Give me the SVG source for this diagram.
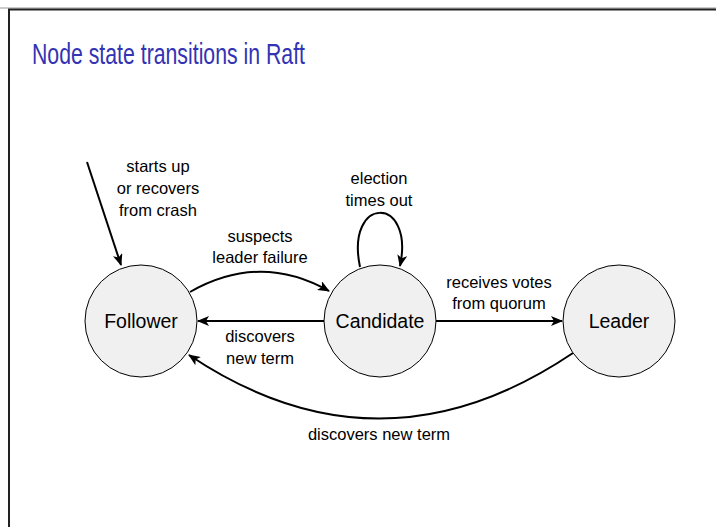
<svg xmlns="http://www.w3.org/2000/svg" width="716" height="527" viewBox="0 0 716 527">
<style>
.frame{fill:none;stroke:#222;stroke-width:2}
.node circle{fill:#f0f0f0;stroke:#000;stroke-width:1}
.node text{font-family:"Liberation Sans",Arial,sans-serif;font-size:19.5px;fill:#000;text-anchor:middle}
.edge{fill:none;stroke:#000;stroke-width:2;marker-end:url(#ah)}
.lbl{font-family:"Liberation Sans",Arial,sans-serif;font-size:16.5px;fill:#000;text-anchor:middle}
.title{font-family:"Liberation Sans",Arial,sans-serif;font-size:29px;fill:#3333b3}
</style>
<defs>
<marker id="ah" markerUnits="userSpaceOnUse" viewBox="0 0 12 10" refX="11" refY="5" markerWidth="12" markerHeight="10" orient="auto">
<path d="M0,0 L12,5 L0,10 L3,5 z" fill="#000"/>
</marker>
</defs>
<rect width="716" height="527" fill="#fff"/>
<line x1="0" y1="8" x2="716" y2="8" stroke="#999" stroke-width="1"/>
<path class="frame" d="M9,527 L9,9.5 L716,9.5"/>
<text class="title" x="32" y="64" textLength="273" lengthAdjust="spacingAndGlyphs">Node state transitions in Raft</text>

<g id="connectors">
<path class="edge" d="M87,162 L121,265"/>
<path class="edge" d="M190,292 Q260,252 329,291"/>
<path class="edge" d="M324,321 L198,321"/>
<path class="edge" d="M436,321 L562,321"/>
<path class="edge" d="M360,267 C345,195 415,195 400,266"/>
<path class="edge" d="M573,353 Q380,483 189,355"/>
<text class="lbl" x="158" y="172">starts up</text>
<text class="lbl" x="158" y="194">or recovers</text>
<text class="lbl" x="158" y="216">from crash</text>
<text class="lbl" x="260" y="242">suspects</text>
<text class="lbl" x="260" y="263">leader failure</text>
<text class="lbl" x="260" y="342">discovers</text>
<text class="lbl" x="260" y="364">new term</text>
<text class="lbl" x="379" y="184">election</text>
<text class="lbl" x="379" y="206">times out</text>
<text class="lbl" x="499" y="288">receives votes</text>
<text class="lbl" x="499" y="309">from quorum</text>
<text class="lbl" x="379" y="440">discovers new term</text>
</g>

<g id="follower" class="node">
<circle cx="141" cy="321" r="56"/>
<text x="141" y="328">Follower</text>
</g>
<g id="candidate" class="node">
<circle cx="380" cy="321" r="56"/>
<text x="380" y="328">Candidate</text>
</g>
<g id="leader" class="node">
<circle cx="619" cy="321" r="56"/>
<text x="619" y="328">Leader</text>
</g>
</svg>
